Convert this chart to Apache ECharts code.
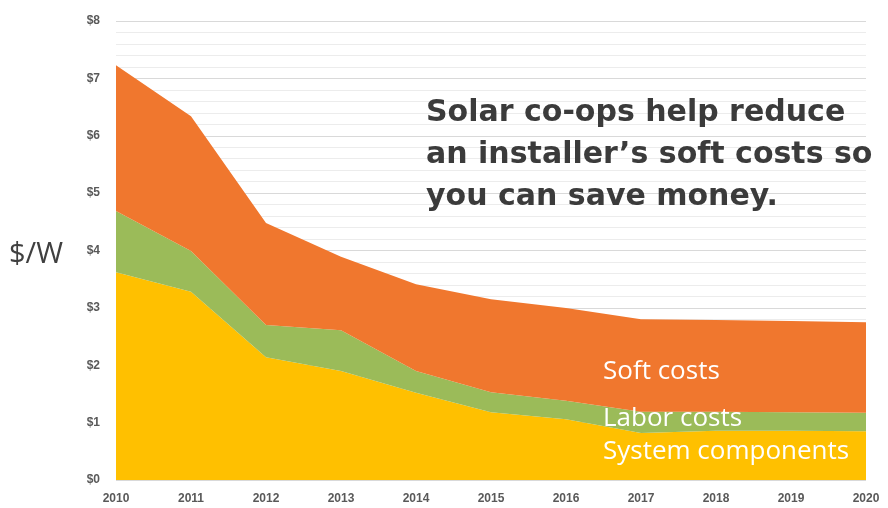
<!DOCTYPE html>
<html><head><meta charset="utf-8">
<script src="https://cdn.jsdelivr.net/npm/echarts@6/dist/echarts.min.js"></script>
<style>html,body{margin:0;padding:0;background:#fff}#c{width:888px;height:508px}</style>
</head><body><div id="c"></div>
<script>
const years = ['2010','2011','2012','2013','2014','2015','2016','2017','2018','2019','2020'];
const systemComponents = [3.62, 3.28, 2.14, 1.90, 1.52, 1.18, 1.06, 0.82, 0.86, 0.86, 0.85];
const laborCosts = [1.07, 0.71, 0.56, 0.71, 0.38, 0.35, 0.32, 0.37, 0.33, 0.32, 0.32];
const softCosts = [2.54, 2.35, 1.78, 1.28, 1.51, 1.62, 1.62, 1.61, 1.60, 1.59, 1.58];
const seriesNames = ['System components', 'Labor costs', 'Soft costs'];
const headline = ['Solar co-ops help reduce', 'an installer\u2019s soft costs so', 'you can save money.'];

const chart = echarts.init(document.getElementById('c'));
function area(name, data, color) {
  return { name, type: 'line', stack: 'total', data, symbol: 'none', smooth: false,
    lineStyle: { width: 0 }, areaStyle: { color, opacity: 1 }, itemStyle: { color } };
}
const lbl = (text, y) => ({ type: 'text', z: 100, x: 603, y,
  style: { text, fontSize: 26, fill: '#fff', fontFamily: 'Open Sans', verticalAlign: 'middle' } });
chart.setOption({
  animation: false,
  grid: { left: 116, right: 22, top: 21, bottom: 28 },
  xAxis: { type: 'category', data: years, boundaryGap: false,
    axisLine: { show: false }, axisTick: { show: false },
    axisLabel: { color: '#595959', fontSize: 12, fontWeight: 'bold', fontFamily: 'Liberation Sans', margin: 13 } },
  yAxis: { type: 'value', min: 0, max: 8, interval: 1,
    axisLine: { show: false }, axisTick: { show: false },
    axisLabel: { color: '#595959', fontSize: 12, fontWeight: 'bold', fontFamily: 'Liberation Sans', margin: 16, formatter: v => '$' + v },
    splitLine: { lineStyle: { color: '#d9d9d9', width: 1 } },
    minorTick: { show: false, splitNumber: 5 },
    minorSplitLine: { show: true, lineStyle: { color: '#ececec', width: 1 } } },
  series: [
    area(seriesNames[0], systemComponents, '#FFC000'),
    area(seriesNames[1], laborCosts, '#9BBB59'),
    area(seriesNames[2], softCosts, '#F0772E')
  ],
  graphic: [
    { type: 'text', z: 100, left: 9, top: 240, style: { text: '$/W', fontSize: 29, fill: '#404040', fontFamily: 'Open Sans' } },
    { type: 'text', z: 100, left: 426, top: 92, style: { text: headline.join('\n'), fontSize: 30, lineHeight: 42, fontWeight: 'bold', fill: '#3b3b3b', fontFamily: 'DejaVu Sans' } },
    lbl(seriesNames[2], 372),
    lbl(seriesNames[1], 419),
    lbl(seriesNames[0], 452)
  ]
});
</script></body></html>
